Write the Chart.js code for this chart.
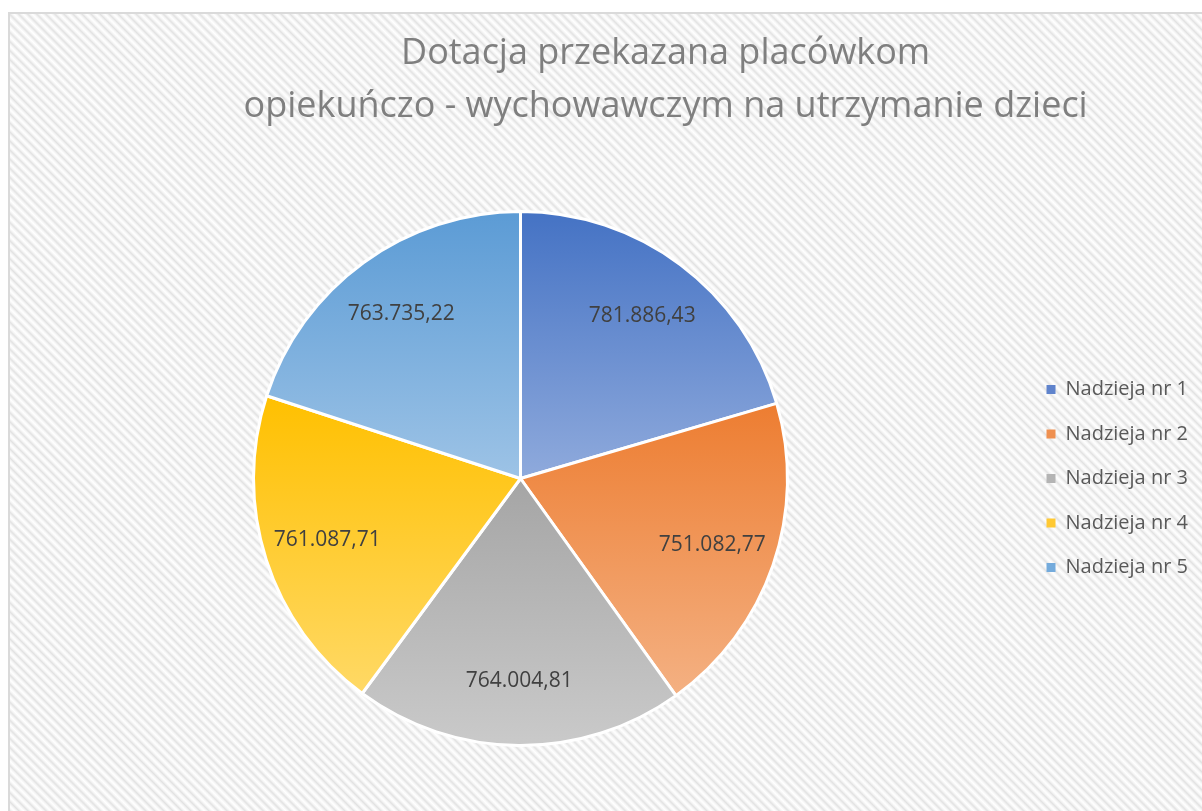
<!DOCTYPE html>
<html lang="pl">
<head>
<meta charset="utf-8">
<title>Dotacja przekazana placówkom</title>
<script src="https://cdn.jsdelivr.net/npm/chart.js@4/dist/chart.umd.min.js"></script>
<style>
  html, body { margin: 0; padding: 0; background: #ffffff; overflow: hidden; }
  body { width: 1202px; height: 811px; position: relative; }
  .chart-frame {
    position: absolute; left: 8px; top: 12px;
    width: 1192px; height: 797px;
    border-left: 2px solid #dadada; border-top: 2px solid #dadada;
    background: repeating-linear-gradient(45deg,
      #e2e2e2 0px, #f5f5f5 1.6px, #ffffff 3.2px, #f5f5f5 4.8px, #e2e2e2 6.4px);
  }
  .chart-wrap { position: absolute; inset: 0; }
</style>
</head>
<body>
<div class="chart-frame">
  <div class="chart-wrap"><canvas id="chartDotacja"></canvas></div>
</div>
<script>
'use strict';

// ── Data ────────────────────────────────────────────
const titleLines = ['Dotacja przekazana placówkom', 'opiekuńczo - wychowawczym na utrzymanie dzieci'];
const labels     = ['Nadzieja nr 1', 'Nadzieja nr 2', 'Nadzieja nr 3', 'Nadzieja nr 4', 'Nadzieja nr 5'];
const values     = [781886.43, 751082.77, 764004.81, 761087.71, 763735.22];
const topColors  = ['#4472c4', '#ed7d31', '#a5a5a5', '#ffc000', '#5b9bd5'];
const botColors  = ['#8faadc', '#f4b183', '#cacaca', '#ffd966', '#9dc3e6'];
const keyColors  = ['#5f83cc', '#ef9050', '#b4b4b4', '#ffc933', '#74abdc'];

const FONT = '"Open Sans", "Noto Sans", sans-serif';

function fmtPL(v) {
  const [int, dec] = v.toFixed(2).split('.');
  return int.replace(/\B(?=(\d{3})+(?!\d))/g, '.') + ',' + dec;
}

// vertical gradient spanning each slice's own bounding box
function sliceGradient(ctx) {
  const chart = ctx.chart;
  const area = chart.chartArea;
  const i = ctx.dataIndex;
  if (!area || i === undefined) return topColors[i] || '#ccc';
  const cx = (area.left + area.right) / 2;
  const cy = (area.top + area.bottom) / 2;
  const r = Math.min(area.right - area.left, area.bottom - area.top) / 2;
  const total = values.reduce((s, v) => s + v, 0);
  const a0 = values.slice(0, i).reduce((s, v) => s + v, 0) / total * 2 * Math.PI;
  const a1 = a0 + values[i] / total * 2 * Math.PI;
  const ys = [cy, cy - r * Math.cos(a0), cy - r * Math.cos(a1)];
  if (a0 <= 1e-9) ys.push(cy - r);
  if (a0 < Math.PI && a1 > Math.PI) ys.push(cy + r);
  const y0 = Math.min(...ys), y1 = Math.max(...ys);
  const g = chart.ctx.createLinearGradient(0, y0, 0, y1);
  g.addColorStop(0, topColors[i]);
  g.addColorStop(1, botColors[i]);
  return g;
}

// ── Plugins ─────────────────────────────────────────
const titlePlugin = {
  id: 'excelTitle',
  afterDraw(chart) {
    const c = chart.ctx;
    c.save();
    c.font = '36px ' + FONT;
    c.fillStyle = '#7f7f7f';
    c.textAlign = 'center';
    c.textBaseline = 'alphabetic';
    const x = chart.width * 0.55;
    titleLines.forEach((t, k) => c.fillText(t, x, 50 + k * 53));
    c.restore();
  }
};

const valueLabels = {
  id: 'valueLabels',
  afterDatasetsDraw(chart) {
    const meta = chart.getDatasetMeta(0);
    const c = chart.ctx;
    c.save();
    c.font = '21px ' + FONT;
    c.fillStyle = '#404040';
    c.textAlign = 'center';
    c.textBaseline = 'middle';
    meta.data.forEach((arc, i) => {
      const p = arc.getProps(['x', 'y', 'startAngle', 'endAngle', 'outerRadius'], true);
      const mid = (p.startAngle + p.endAngle) / 2;
      const d = p.outerRadius * 0.76;
      c.fillText(fmtPL(values[i]), p.x + Math.cos(mid) * d, p.y + Math.sin(mid) * d);
    });
    c.restore();
  }
};

// ── Chart ───────────────────────────────────────────
new Chart(document.getElementById('chartDotacja'), {
  type: 'pie',
  data: {
    labels,
    datasets: [{
      data: values,
      backgroundColor: sliceGradient,
      borderColor: '#ffffff',
      borderWidth: 3
    }]
  },
  options: {
    responsive: true,
    maintainAspectRatio: false,
    animation: false,
    layout: { padding: { top: 196, bottom: 64, left: 9, right: 4 } },
    plugins: {
      title: { display: false },
      tooltip: { enabled: false },
      legend: {
        position: 'right',
        labels: {
          color: '#595959',
          font: { size: 20, family: FONT },
          boxWidth: 9,
          boxHeight: 9,
          padding: 24.5,
          generateLabels: chart => labels.map((t, i) => ({
            text: t,
            fillStyle: keyColors[i],
            strokeStyle: keyColors[i],
            lineWidth: 0,
            fontColor: '#595959',
            hidden: false,
            index: i
          }))
        }
      }
    }
  },
  plugins: [titlePlugin, valueLabels]
});
</script>
</body>
</html>
